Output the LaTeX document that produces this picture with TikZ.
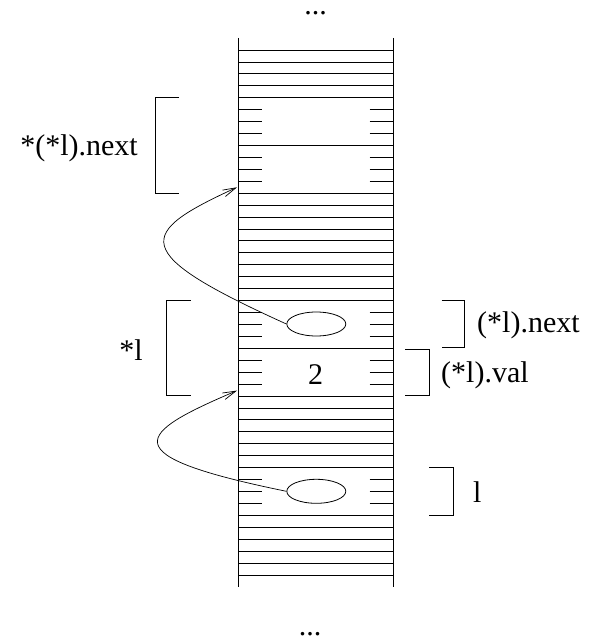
\documentclass[tikz,border=0pt]{standalone}
\usepackage{fontspec}
\setmainfont{Liberation Serif}
\usetikzlibrary{shapes.geometric,arrows.meta}
\tikzset{
  memline/.style={line width=0.8pt},
  bracketline/.style={line width=0.8pt},
  lbl/.style={inner sep=0pt, font=\fontsize{30}{36}\selectfont},
  cell/.style={ellipse, draw, line width=0.8pt, minimum width=59pt, minimum height=24pt, inner sep=0pt},
  ptr/.style={line width=0.7pt, -{Straight Barb[length=13pt,width=7pt]}}
}
\begin{document}
\begin{tikzpicture}[x=1pt,y=-1pt]
\useasboundingbox (0,0) rectangle (597,639);
% column
\draw[memline] (238,38) -- (238,587);
\draw[memline] (393,38) -- (393,587);
\foreach \k in {0,...,4,8,12,13,...,21,25,29,30,...,35,39,40,...,44}
  \draw[memline] (238,50+11.93*\k) -- (393,50+11.93*\k);
\foreach \k in {5,6,7,9,10,11,22,23,24,26,27,28,36,37,38}{
  \draw[memline] (238,50+11.93*\k) -- (262,50+11.93*\k);
  \draw[memline] (369.5,50+11.93*\k) -- (393,50+11.93*\k);
}
% dots
\node[lbl, anchor=base] (dtop) at (315.5,14.5) {...};
\node[lbl, anchor=base] (dbot) at (310,635) {...};
% cells
\node[cell] (e1) at (316.3,324) {};
\node[cell] (e2) at (316.3,491.3) {};
\node[lbl] (v) at (315.7,375) {2};
% targets
\coordinate (t1) at (237,187.3);
\coordinate (t2) at (237,390.6);
\draw[ptr] (e1.west) .. controls +(-159,-72) and +(-100,46) .. (t1);
\draw[ptr] (e2.west) .. controls +(-176,-36) and +(-101,43) .. (t2);
% brackets
\draw[bracketline] (179,97.7) -- (155,97.7) -- (155,193.3) -- (179,193.3);
\draw[bracketline] (190.7,300.7) -- (166.7,300.7) -- (166.7,395.7) -- (190.7,395.7);
\draw[bracketline] (441.7,300.7) -- (464.3,300.7) -- (464.3,347.7) -- (441.7,347.7);
\draw[bracketline] (405,349) -- (429.3,349) -- (429.3,395.7) -- (405,395.7);
\draw[bracketline] (429.3,467.3) -- (453.3,467.3) -- (453.3,515) -- (429.3,515);
% labels
\node[lbl, anchor=east] (lnn) at (138,148) {*(*l).next};
\node[lbl, anchor=east] (lsl) at (143,350) {*l};
\node[lbl, anchor=west] (lnext) at (477,325) {(*l).next};
\node[lbl, anchor=west] (lval) at (441,375) {(*l).val};
\node[lbl, anchor=west] (ll) at (473,491.7) {l};
\end{tikzpicture}
\end{document}
